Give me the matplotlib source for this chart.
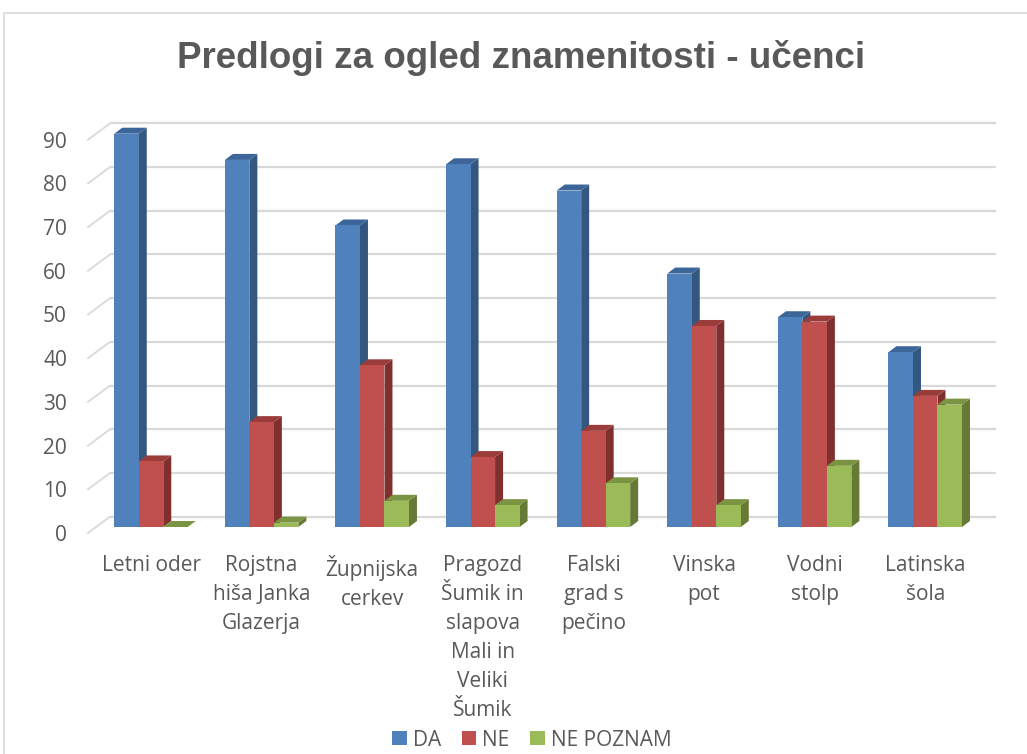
import matplotlib
matplotlib.use("Agg")
import matplotlib.pyplot as plt
import matplotlib.transforms as mtransforms
from matplotlib.patches import Polygon, Rectangle
import numpy as np

# ---------------- data ----------------
title = "Predlogi za ogled znamenitosti - učenci"
categories = [
    "Letni oder",
    "Rojstna\nhiša Janka\nGlazerja",
    "Župnijska\ncerkev",
    "Pragozd\nŠumik in\nslapova\nMali in\nVeliki\nŠumik",
    "Falski\ngrad s\npečino",
    "Vinska\npot",
    "Vodni\nstolp",
    "Latinska\nšola",
]
series_names = ["DA", "NE", "NE POZNAM"]
da = [90, 84, 69, 83, 77, 58, 48, 40]
ne = [15, 24, 37, 16, 22, 46, 47, 30]
ne_poznam = [0, 1, 6, 5, 10, 5, 14, 28]
yticks = list(range(0, 100, 10))

# ---------------- style ----------------
front_cols = ["#4F81BD", "#C0504D", "#9BBB59"]
side_cols = ["#34577F", "#7F302E", "#667A36"]
top_cols = ["#3C659A", "#9A3C3A", "#7B9441"]
text_col = "#595959"
grid_col = "#D9D9D9"

W, H, DPI = 1027, 754, 100
fig = plt.figure(figsize=(W / DPI, H / DPI), dpi=DPI)
fig.patch.set_facecolor("white")

# axes = front plane of the bars
px_left, px_right = 88, 1000
px_y0, px_y90 = 527, 133.7
ax = fig.add_axes([px_left / W, (H - px_y0) / H, (px_right - px_left) / W, (px_y0 - px_y90) / H])
ax.set_xlim(-0.5696, 7.676)
ax.set_ylim(0, 90)
for s in ax.spines.values():
    s.set_visible(False)
ax.set_facecolor("none")

ppx = 110.6  # pixels per x unit
ppy = (px_y0 - px_y90) / 90.0  # pixels per y unit

x = np.arange(len(categories))
bw = 24.5 / ppx
ddx = 8 / ppx      # depth offset x
ddy = 6 / ppy      # depth offset y

# back wall gridlines and side wall
wall_dy = 10.3 / ppy
wall_x0 = -0.3707
wall_x1 = (996 - 151) / ppx
side_front_dy = -6 / ppy
for v in yticks:
    ax.plot([wall_x0, wall_x1], [v + wall_dy, v + wall_dy], color=grid_col, lw=1.6,
            zorder=0, clip_on=False, solid_capstyle="butt")
    ax.plot([-0.5696, wall_x0], [v + side_front_dy, v + wall_dy], color=grid_col, lw=1.3,
            zorder=0, clip_on=False)

# bars with 3D look: side and top faces
all_series = [da, ne, ne_poznam]
z = 2
for i in range(len(categories)):
    for k, vals in enumerate(all_series):
        v = vals[i]
        xl = x[i] - 1.5 * bw + k * bw
        xr = xl + bw
        side = Polygon([(xr, 0), (xr, v), (xr + ddx, v + ddy), (xr + ddx, ddy)],
                       closed=True, facecolor=side_cols[k], edgecolor="none", zorder=z, clip_on=False)
        top = Polygon([(xl, v), (xr, v), (xr + ddx, v + ddy), (xl + ddx, v + ddy)],
                      closed=True, facecolor=top_cols[k], edgecolor="none", zorder=z, clip_on=False)
        ax.add_patch(side)
        ax.add_patch(top)
        z += 2

# front faces (zorder set per bar so later bars cover earlier side faces)
z = 2
bars_by_series = [[], [], []]
for i in range(len(categories)):
    for k, vals in enumerate(all_series):
        b = ax.bar(x[i] - bw + k * bw, vals[i], width=bw, color=front_cols[k],
                   edgecolor="none", zorder=z + 1, clip_on=False,
                   label=series_names[k] if i == 0 else None)
        bars_by_series[k].append(b)
        z += 2

# y tick labels (aligned with the front edge of the side wall)
lab_tr = mtransforms.offset_copy(ax.get_yaxis_transform(), fig=fig, x=-21, y=-6, units="dots")
for v in yticks:
    ax.text(0, v, str(v), transform=lab_tr, ha="right", va="center_baseline",
            fontsize=15, color=text_col, family="Open Sans")
ax.set_yticks([])

# category labels
ax.set_xticks(x)
ax.set_xticklabels(categories, fontsize=15, color=text_col, family="Open Sans",
                   linespacing=1.5, va="top", ha="center")
ax.tick_params(axis="x", length=0, pad=20)

# title
fig.text(521.5 / W, (H - 68) / H, title, ha="center", va="baseline",
         fontsize=26.5, fontweight="bold", color=text_col, family="Liberation Sans")

# legend
handles = [bars_by_series[k][0] for k in range(3)]
leg = fig.legend(handles=handles, labels=series_names, loc="center",
                 bbox_to_anchor=(532 / W, (H - 740) / H), ncol=3, frameon=False,
                 handlelength=0.68, handleheight=0.68, handletextpad=0.3,
                 columnspacing=1.0, borderaxespad=0,
                 prop={"family": "Open Sans", "size": 15})
for t in leg.get_texts():
    t.set_color(text_col)

# chart area border (top and left visible)
fig.add_artist(Rectangle((4 / W, -0.05), 1.1, (H - 13) / H + 0.05, transform=fig.transFigure,
                         facecolor="none", edgecolor=grid_col, lw=1.2, zorder=-1))

fig.savefig("out.png", dpi=DPI, facecolor="white")
